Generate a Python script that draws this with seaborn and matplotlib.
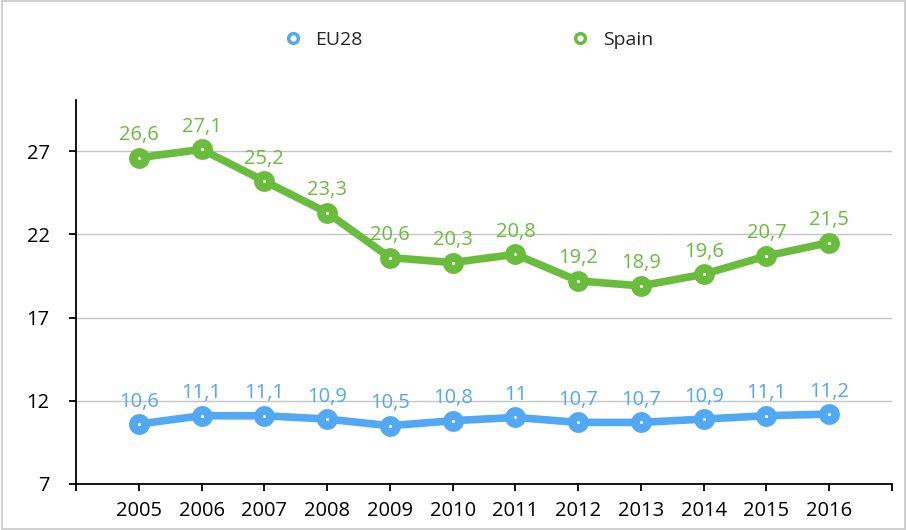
import matplotlib
matplotlib.use("Agg")
import matplotlib.pyplot as plt
import seaborn as sns
import pandas as pd
from matplotlib.lines import Line2D
from matplotlib.patches import Rectangle

years = [2005, 2006, 2007, 2008, 2009, 2010, 2011, 2012, 2013, 2014, 2015, 2016]
eu28 = [10.6, 11.1, 11.1, 10.9, 10.5, 10.8, 11.0, 10.7, 10.7, 10.9, 11.1, 11.2]
spain = [26.6, 27.1, 25.2, 23.3, 20.6, 20.3, 20.8, 19.2, 18.9, 19.6, 20.7, 21.5]
series_names = ["EU28", "Spain"]
colors = {"EU28": "#51A8F4", "Spain": "#6ABD3C"}
yticks = [7, 12, 17, 22, 27]

sns.set_theme(style="white")
plt.rcParams["font.family"] = ["Open Sans", "DejaVu Sans"]

df = pd.DataFrame({
    "year": years * 2,
    "value": eu28 + spain,
    "series": ["EU28"] * len(years) + ["Spain"] * len(years),
})

fig = plt.figure(figsize=(9.07, 5.30), dpi=100)
fig.patches.append(Rectangle((0.002, 0.002), 0.996, 0.996, transform=fig.transFigure,
                             fill=False, edgecolor="#c8c8c8", linewidth=1.2))
ax = fig.add_axes([0.0838, 0.0868, 0.8997, 0.724])

sns.lineplot(data=df, x="year", y="value", hue="series", palette=colors,
             linewidth=5.5, marker="o", markersize=15, markeredgewidth=0,
             legend=False, ax=ax, zorder=3)
sns.scatterplot(data=df, x="year", y="value", color="white", s=5,
                linewidth=0, legend=False, ax=ax, zorder=5)

for name, vals in (("EU28", eu28), ("Spain", spain)):
    for x, v in zip(years, vals):
        lab = f"{v:g}".replace(".", ",")
        ax.annotate(lab, (x, v), xytext=(0, 9), textcoords="offset points",
                    ha="center", va="bottom", color=colors[name], fontsize=14.5)

ax.set_xlim(2004, 2017)
ax.set_ylim(7, 30.05)
ax.set_xticks(list(range(2004, 2018)))
ax.set_xticklabels([""] + [str(y) for y in years] + [""])
ax.set_yticks(yticks)
ax.set_yticklabels([str(t) for t in yticks])
ax.yaxis.grid(True, color="#c4c4c4", linewidth=1)
ax.set_axisbelow(True)
for s in ("top", "right"):
    ax.spines[s].set_visible(False)
for s in ("left", "bottom"):
    ax.spines[s].set_color("black")
    ax.spines[s].set_linewidth(1.3)
ax.tick_params(axis="both", which="both", direction="out", length=5, width=1.3,
               colors="black", labelsize=14.5, bottom=True, left=True, pad=7)
ax.tick_params(axis="y", pad=14)
ax.set_xlabel("")
ax.set_ylabel("")

handles = [Line2D([], [], linestyle="none", marker="o", markersize=7,
                  markerfacecolor="white", markeredgecolor=colors[n],
                  markeredgewidth=2.5) for n in series_names]
fig.legend(handles, series_names, loc="center", bbox_to_anchor=(0.515, 0.925),
           ncol=2, frameon=False, fontsize=14, columnspacing=10.6,
           handletextpad=0.55, handlelength=1.2)

fig.savefig("out.png", dpi=100)
